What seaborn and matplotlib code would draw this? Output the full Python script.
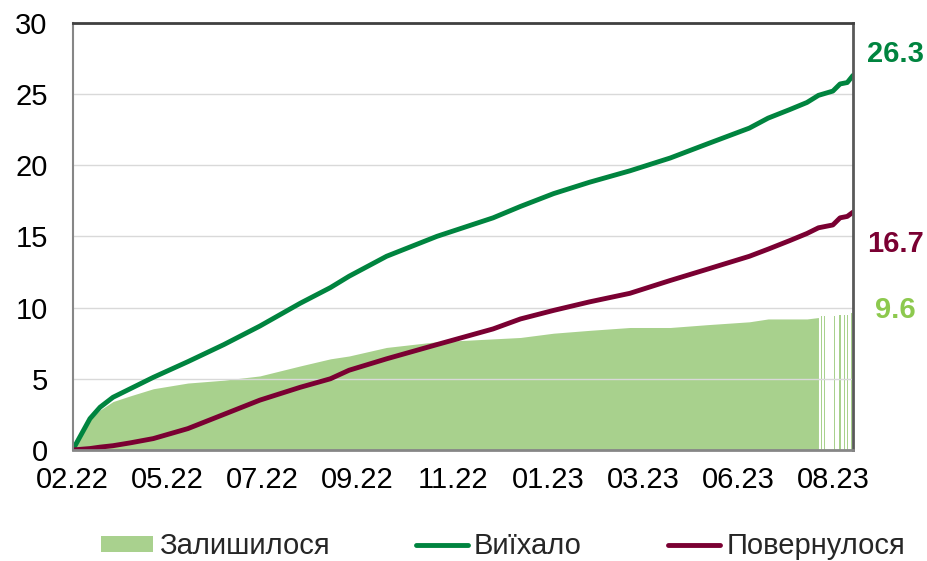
import numpy as np
import pandas as pd
import matplotlib
matplotlib.use("Agg")
import matplotlib.pyplot as plt
from matplotlib.patches import Patch
from matplotlib.lines import Line2D
import seaborn as sns

# Cumulative border crossings since 24.02.2022, million people
start_date = "2022-02-24"
day_offset = [0, 12, 19, 28, 40, 56, 80, 105, 130, 158,
              179, 192, 218, 253, 292, 311, 334, 359, 387, 415,
              441, 470, 483, 498, 510, 518, 528, 533, 538, 542]
departed = [0.0, 2.2, 3.0, 3.7, 4.3, 5.1, 6.2, 7.4, 8.7, 10.3,
            11.4, 12.2, 13.6, 15.0, 16.3, 17.1, 18.0, 18.8, 19.6, 20.5,
            21.5, 22.6, 23.3, 23.9, 24.4, 24.9, 25.2, 25.7, 25.8, 26.3]
returned = [0.0, 0.1, 0.2, 0.3, 0.5, 0.8, 1.5, 2.5, 3.5, 4.4,
            5.0, 5.6, 6.4, 7.4, 8.5, 9.2, 9.8, 10.4, 11.0, 11.9,
            12.7, 13.6, 14.1, 14.7, 15.2, 15.6, 15.8, 16.3, 16.4, 16.7]
# last day of the continuous "remained" series, then sparse daily reports
remained_last_day = 518
tail_day = [520, 522, 529, 533, 536, 538, 541]
tail_remained = [9.4, 9.4, 9.4, 9.5, 9.5, 9.5, 9.6]

tick_days = [0, 66, 132, 198, 264, 330, 396, 462, 528]
tick_labels = ["02.22", "05.22", "07.22", "09.22", "11.22",
               "01.23", "03.23", "06.23", "08.23"]
y_ticks = [0, 5, 10, 15, 20, 25, 30]

series_names = ["Залишилося", "Виїхало", "Повернулося"]
c_remained = "#9FCC81"
c_departed = "#00843F"
c_returned = "#7A0032"
c_remained_label = "#8DC94E"

sns.set_theme(style="white")
plt.rcParams["font.family"] = ["Liberation Sans", "DejaVu Sans"]

t0 = pd.Timestamp(start_date)
df = pd.DataFrame({
    "date": t0 + pd.to_timedelta(day_offset, unit="D"),
    "departed": departed,
    "returned": returned,
})
df["remained"] = df["departed"] - df["returned"]
tail = pd.DataFrame({"date": t0 + pd.to_timedelta(tail_day, unit="D"),
                     "remained": tail_remained})

fig = plt.figure(figsize=(9.27, 5.61), dpi=100)
ax = fig.add_axes([0.0784, 0.1979, 0.8418, 0.7616])

block = df[df["date"] <= t0 + pd.Timedelta(days=remained_last_day)]
ax.fill_between(block["date"], 0, block["remained"], color=c_remained,
                alpha=0.9, lw=0, zorder=1)
ax.bar(tail["date"], tail["remained"], width=0.8, color=c_remained,
       alpha=0.9, lw=0, zorder=1)

sns.lineplot(data=df, x="date", y="departed", color=c_departed, lw=3.5,
             ax=ax, zorder=3)
sns.lineplot(data=df, x="date", y="returned", color=c_returned, lw=3.5,
             ax=ax, zorder=3)

ax.set_xlim(t0, t0 + pd.Timedelta(days=day_offset[-1]))
ax.set_ylim(0, 30)
ax.set_xticks(t0 + pd.to_timedelta(tick_days, unit="D"))
ax.set_xticklabels(tick_labels)
ax.set_yticks(y_ticks)
ax.set_xlabel("")
ax.set_ylabel("")

ax.set_axisbelow(False)
ax.grid(axis="y", color="#d9d9d9", lw=1.0, zorder=2)
ax.grid(axis="x", visible=False)

ax.tick_params(axis="y", direction="in", length=6, width=1.5,
               color="#868686", pad=18, labelsize=21, labelcolor="black")
ax.tick_params(axis="x", length=0, pad=11.5, labelsize=21, labelcolor="black")

for side, col, lw in [("left", "#868686", 1.5), ("bottom", "#868686", 2.0),
                      ("top", "#404040", 2.0), ("right", "#595959", 2.0)]:
    ax.spines[side].set_visible(True)
    ax.spines[side].set_color(col)
    ax.spines[side].set_linewidth(lw)
    ax.spines[side].set_zorder(4)

# end-of-series value labels
end_labels = [(departed[-1], c_departed, 13.7),
              (returned[-1], c_returned, -39.4),
              (tail_remained[-1], c_remained_label, -5.0)]
for val, col, dy in end_labels:
    ax.annotate(f"{val:.1f}", xy=(1.054, val),
                xycoords=("axes fraction", "data"),
                xytext=(0, dy), textcoords="offset pixels",
                ha="center", va="baseline", fontsize=21,
                fontweight="bold", color=col, annotation_clip=False)

handles = [Patch(facecolor="#A9D18E", edgecolor="none"),
           Line2D([], [], color=c_departed, lw=3.5, solid_capstyle="round"),
           Line2D([], [], color=c_returned, lw=3.5, solid_capstyle="round")]
fig.legend(handles, series_names, loc="center left",
           bbox_to_anchor=(0.1085, 0.026), ncol=3, frameon=False,
           fontsize=21, handlelength=1.8, handleheight=0.48,
           handletextpad=0.2, columnspacing=2.95, borderpad=0,
           borderaxespad=0)

fig.savefig("out.png", dpi=100)
